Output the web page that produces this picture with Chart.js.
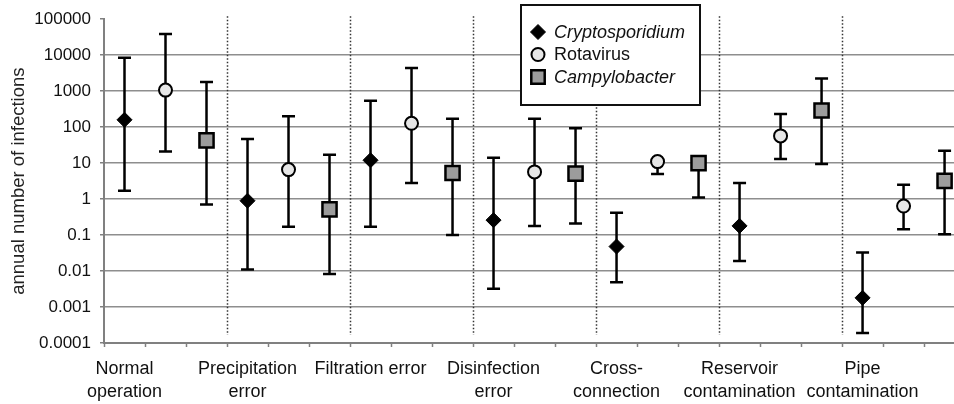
<!DOCTYPE html>
<html>
<head>
<meta charset="utf-8">
<script src="https://cdn.jsdelivr.net/npm/chart.js@4/dist/chart.umd.min.js"></script>
<style>
  html, body { margin: 0; padding: 0; background: #fff; overflow: hidden; }
  canvas { display: block; }
</style>
</head>
<body>
<canvas id="chart" width="954" height="404"></canvas>
<script>
// scenario labels (one per group of three slots)
const categories = [
  ['Normal', 'operation'],
  ['Precipitation', 'error'],
  ['Filtration error'],
  ['Disinfection', 'error'],
  ['Cross-', 'connection'],
  ['Reservoir', 'contamination'],
  ['Pipe', 'contamination'],
];

// annual number of infections: point estimate and range
const cryptoMid  = [160, 0.9, 12, 0.26, 0.048, 0.18, 0.0018];
const cryptoLow  = [1.7, 0.011, 0.17, 0.0032, 0.0049, 0.019, 0.00019];
const cryptoHigh = [8500, 47, 540, 14, 0.42, 2.8, 0.033];

const rotaMid  = [1070, 6.6, 128, 5.7, 11, 57, 0.64];
const rotaLow  = [21, 0.17, 2.8, 0.18, 5, 13, 0.145];
const rotaHigh = [39000, 200, 4400, 170, 12, 230, 2.5];

const campyMid  = [43, 0.52, 5.3, 5.1, 10, 290, 3.2];
const campyLow  = [0.71, 0.0083, 0.1, 0.21, 1.1, 9.5, 0.105];
const campyHigh = [1800, 17, 170, 93, 12, 2250, 22];

const yTicks = [0.0001, 0.001, 0.01, 0.1, 1, 10, 100, 1000, 10000, 100000];
const yTickLabels = ['0.0001', '0.001', '0.01', '0.1', '1', '10', '100', '1000', '10000', '100000'];

const FONT = '"Liberation Sans", Arial, sans-serif';
const groupBounds = [2.5, 5.5, 8.5, 11.5, 14.5, 17.5];
const slotBounds = [];
for (let k = 0; k < 21; k++) slotBounds.push(k - 0.5);
const labelPos = categories.map((c, g) => 3 * g);

const pts = (vals, off) => vals.map((v, g) => ({ x: 3 * g + off, y: v }));
const whisker = (lo, hi, off) => lo.flatMap((v, g) => [
  { x: 3 * g + off, y: v }, { x: 3 * g + off, y: hi[g] }, { x: 3 * g + off, y: null },
]);
const caps = (lo, hi, off) => lo.flatMap((v, g) => [
  { x: 3 * g + off, y: v }, { x: 3 * g + off, y: hi[g] },
]);

function series(label, mid, lo, hi, off, style) {
  return [
    {
      type: 'scatter', label, data: pts(mid, off), order: 0, legend: true,
      italic: style.italic, legendRadius: style.legendRadius,
      pointStyle: style.pointStyle, pointRadius: style.radius,
      pointBackgroundColor: style.fill, pointBorderColor: '#000',
      pointBorderWidth: style.borderWidth,
      backgroundColor: style.fill, borderColor: '#000', borderWidth: style.borderWidth,
    },
    {
      type: 'line', label: label + ' range', data: whisker(lo, hi, off), order: 2,
      borderColor: '#000', borderWidth: 2.5, pointRadius: 0, spanGaps: false,
    },
    {
      type: 'scatter', label: label + ' caps', data: caps(lo, hi, off), order: 1,
      pointStyle: 'line', pointRadius: 6.5, pointBorderColor: '#000', pointBorderWidth: 2.5,
    },
  ];
}

const groupLines = {
  id: 'groupLines',
  beforeDatasetsDraw(chart) {
    const { ctx, chartArea, scales: { x } } = chart;
    ctx.save();
    ctx.strokeStyle = '#333';
    ctx.lineWidth = 1.5;
    ctx.setLineDash([1.5, 2]);
    groupBounds.forEach(v => {
      const px = Math.round(x.getPixelForValue(v)) + 0.5;
      ctx.beginPath();
      ctx.moveTo(px, chartArea.top - 3);
      ctx.lineTo(px, chartArea.bottom - 8);
      ctx.stroke();
    });
    ctx.restore();
  }
};

const boxLegend = {
  id: 'boxLegend',
  afterDraw(chart) {
    const { ctx } = chart;
    const L = 521, T = 5, W = 179, H = 100;
    ctx.save();
    ctx.fillStyle = '#fff';
    ctx.fillRect(L, T, W, H);
    ctx.lineWidth = 2;
    ctx.strokeStyle = '#111';
    ctx.strokeRect(L, T, W, H);
    chart.data.datasets.filter(d => d.legend).forEach((d, i) => {
      const y = T + 27 + i * 22.5;
      ctx.fillStyle = d.backgroundColor;
      ctx.strokeStyle = d.borderColor;
      ctx.lineWidth = d.borderWidth;
      Chart.helpers.drawPoint(ctx, {
        pointStyle: d.pointStyle, radius: d.legendRadius, borderWidth: d.borderWidth, rotation: 0
      }, L + 17, y);
      ctx.fillStyle = '#111';
      ctx.font = (d.italic ? 'italic ' : '') + '18px ' + FONT;
      ctx.textBaseline = 'middle';
      ctx.textAlign = 'left';
      ctx.fillText(d.label, L + 33, y + 1);
    });
    ctx.restore();
  }
};

new Chart(document.getElementById('chart'), {
  type: 'scatter',
  data: {
    datasets: [
      ...series('Cryptosporidium', cryptoMid, cryptoLow, cryptoHigh, 0,
        { pointStyle: 'rectRot', radius: 7.5, legendRadius: 7.5, fill: '#000', borderWidth: 1, italic: true }),
      ...series('Rotavirus', rotaMid, rotaLow, rotaHigh, 1,
        { pointStyle: 'circle', radius: 6.5, legendRadius: 6.5, fill: '#e6e6e6', borderWidth: 2, italic: false }),
      ...series('Campylobacter', campyMid, campyLow, campyHigh, 2,
        { pointStyle: 'rect', radius: 10, legendRadius: 9.5, fill: '#9c9c9c', borderWidth: 2.5, italic: true }),
    ]
  },
  options: {
    responsive: false,
    animation: false,
    events: [],
    layout: { autoPadding: false, padding: { left: 0, right: 0, top: 17, bottom: 0 } },
    plugins: { legend: { display: false }, tooltip: { enabled: false } },
    scales: {
      x: {
        type: 'linear',
        min: -0.5,
        max: 20.23,
        afterBuildTicks(scale) {
          scale.ticks = slotBounds.concat(labelPos).sort((a, b) => a - b).map(v => ({ value: v }));
        },
        afterFit(scale) {
          scale.height = 61;
          scale.paddingLeft = 0;
          scale.paddingRight = 0;
        },
        grid: {
          drawOnChartArea: false,
          tickLength: 4,
          tickWidth: 1.5,
          tickColor: ctx => (ctx.tick && slotBounds.includes(ctx.tick.value)) ? '#808080' : 'rgba(0,0,0,0)',
        },
        border: { display: true, color: '#808080', width: 2 },
        ticks: {
          autoSkip: false,
          maxRotation: 0,
          padding: 11,
          color: '#111',
          font: { family: FONT, size: 18, lineHeight: 1.25 },
          callback: (v) => {
            const g = labelPos.indexOf(v);
            return g >= 0 ? categories[g] : '';
          }
        }
      },
      y: {
        type: 'logarithmic',
        min: 0.0001,
        max: 100000,
        afterBuildTicks(scale) { scale.ticks = yTicks.map(v => ({ value: v })); },
        afterFit(scale) { scale.width = 104; },
        grid: {
          color: ctx => (ctx.tick && ctx.tick.value === 100000) ? 'rgba(0,0,0,0)' : '#8e8e8e',
          lineWidth: 1.5,
          tickLength: 4,
          tickColor: '#808080',
          tickWidth: 1.5,
        },
        border: { display: true, color: '#808080', width: 2 },
        ticks: {
          padding: 9,
          color: '#111',
          font: { family: FONT, size: 17 },
          callback: (v, i) => yTickLabels[i]
        },
        title: {
          display: true,
          text: 'annual number of infections',
          color: '#222',
          font: { family: FONT, size: 18.5 },
          padding: { top: 8, bottom: 0 }
        }
      }
    }
  },
  plugins: [groupLines, boxLegend]
});
</script>
</body>
</html>
